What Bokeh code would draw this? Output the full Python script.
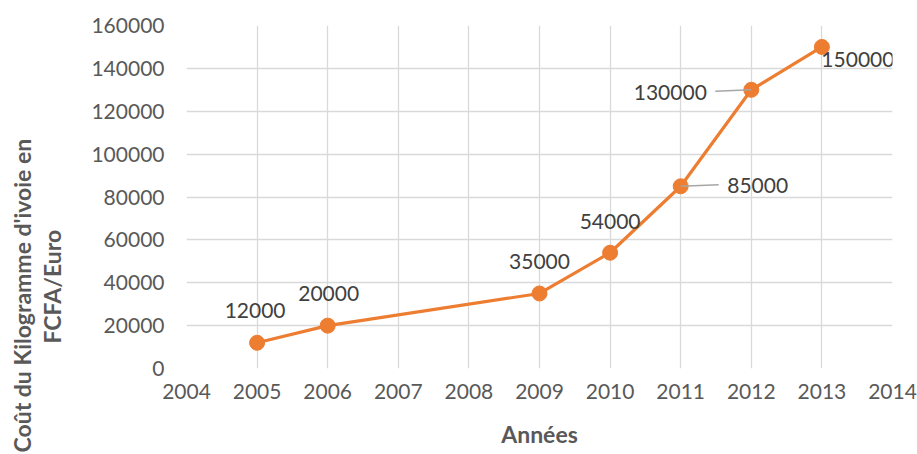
from bokeh.plotting import figure
from bokeh.models import Label, FixedTicker, NumeralTickFormatter, Range1d, Title
from bokeh.embed import file_html
from bokeh.resources import INLINE

years = [2005, 2006, 2009, 2010, 2011, 2012, 2013]
prices = [12000, 20000, 35000, 54000, 85000, 130000, 150000]
x_ticks = list(range(2004, 2015))
y_ticks = list(range(0, 160001, 20000))
x_title = "Années"
y_title_lines = ["Coût du Kilogramme d'ivoie en", "FCFA/Euro"]

# label offsets (screen px) for each data label
label_dx = [-2, 1, 0, 0, 77, -81, 36]
label_dy = [32, 32, 32, 31, 1, -3, -13]

FONT = "Lato"
ORANGE = "#ED7D31"
GRID = "#d9d9d9"
TXT = "#595959"

p = figure(width=917, height=454, output_backend="svg", toolbar_location=None,
           x_range=Range1d(2004, 2014), y_range=Range1d(0, 160000),
           frame_width=706, frame_height=343,
           min_border_left=186, min_border_right=25, min_border_top=25, min_border_bottom=86)
p.outline_line_color = None
p.background_fill_color = "white"
p.border_fill_color = "white"

for ax in (p.xaxis[0], p.yaxis[0]):
    ax.axis_line_color = None
    ax.major_tick_line_color = None
    ax.minor_tick_line_color = None
    ax.major_label_text_font = FONT
    ax.major_label_text_font_size = "21px"
    ax.major_label_text_color = TXT

p.xaxis.ticker = FixedTicker(ticks=x_ticks)
p.yaxis.ticker = FixedTicker(ticks=y_ticks)
p.yaxis.formatter = NumeralTickFormatter(format="0")
p.xaxis.formatter = NumeralTickFormatter(format="0")
p.xaxis.major_label_standoff = 9
p.yaxis.major_label_standoff = 16

p.xaxis.axis_label = x_title
p.xaxis.axis_label_text_font = FONT
p.xaxis.axis_label_text_font_size = "23px"
p.xaxis.axis_label_text_font_style = "bold"
p.xaxis.axis_label_text_color = TXT
p.xaxis.axis_label_standoff = 18

p.xgrid.grid_line_color = GRID
p.ygrid.grid_line_color = GRID
p.xgrid.grid_line_width = 1.3
p.ygrid.grid_line_width = 1.3

p.line(years, prices, line_color=ORANGE, line_width=3.2)
p.scatter(years, prices, size=15, fill_color=ORANGE, line_color=ORANGE)

# leader lines for 85000 and 130000 (data positions plus pixel-based offsets)
px_per_year = 706 / 10.0
px_per_unit = 343 / 160000.0
i85 = prices.index(85000)
i130 = prices.index(130000)
p.segment(x0=[years[i85], years[i130] - 36 / px_per_year],
          y0=[prices[i85], prices[i130] - 1.4 / px_per_unit],
          x1=[years[i85] + 38 / px_per_year, years[i130]],
          y1=[prices[i85] + 1.5 / px_per_unit, prices[i130]],
          line_color="#a6a6a6", line_width=1.5)

for x, y, dx, dy in zip(years, prices, label_dx, label_dy):
    p.add_layout(Label(x=x, y=y, x_offset=dx, y_offset=dy, text=str(y),
                       text_font=FONT, text_font_size="21px", text_color="#404040",
                       text_align="center", text_baseline="middle"))

# y axis title: spacer, then the two lines stacked outward
p.add_layout(Title(text=" ", text_font_size="1px", standoff=20), "left")
p.add_layout(Title(text=y_title_lines[1], align="left", offset=25, standoff=0,
                   text_font=FONT, text_font_size="23px", text_font_style="bold",
                   text_color=TXT), "left")
p.add_layout(Title(text=y_title_lines[0], align="left", offset=-84, standoff=0,
                   text_font=FONT, text_font_size="23px", text_font_style="bold",
                   text_color=TXT), "left")

open("out.html", "w").write(file_html(p, INLINE))
